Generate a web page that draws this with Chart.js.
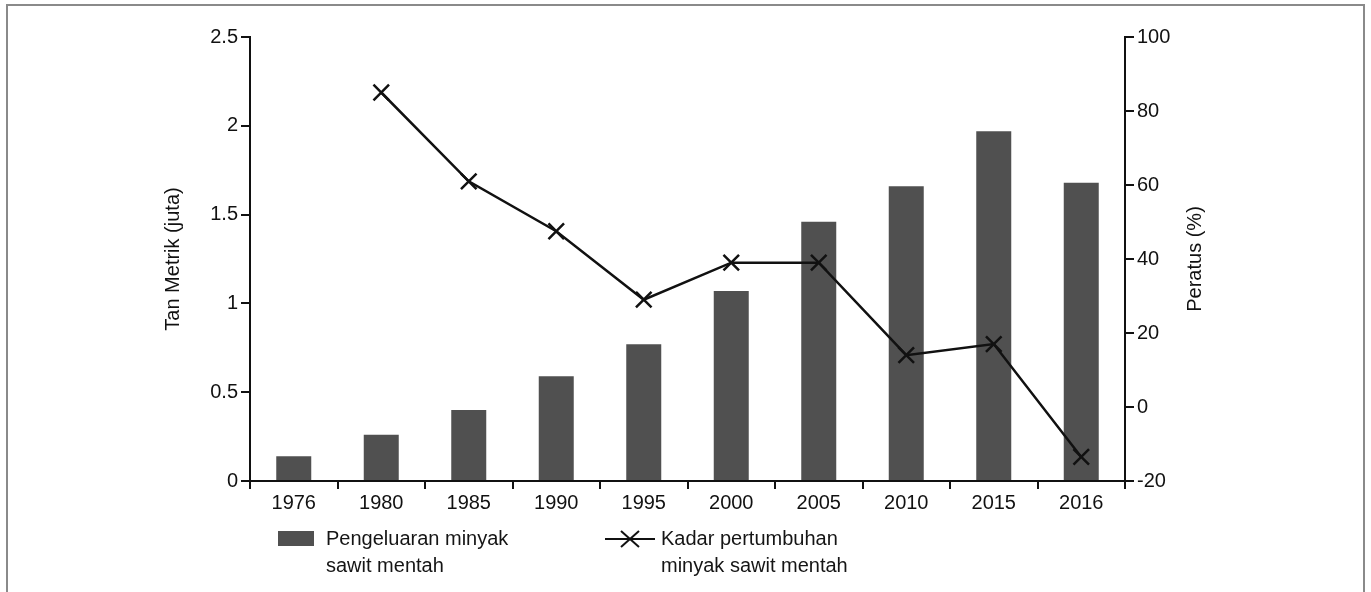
<!DOCTYPE html>
<html lang="ms">
<head>
    <meta charset="UTF-8">
    <title>Pengeluaran minyak sawit mentah</title>
    <script src="https://cdn.jsdelivr.net/npm/chart.js"></script>
    <style>
        body {
            margin: 0;
            background: #ffffff;
            font-family: 'Liberation Sans', Arial, sans-serif;
            color: #111;
        }
        .page {
            position: relative;
            width: 1371px;
            height: 592px;
            overflow: hidden;
        }
        .frame {
            position: absolute;
            left: 6px;
            top: 4px;
            width: 1355px;
            height: 600px;
            border: 2px solid #8a8a8a;
            border-bottom: none;
        }
        canvas { position: absolute; left: 0; top: 0; }
        .legend {
            position: absolute;
            top: 525px;
            font-size: 20px;
            line-height: 27px;
            color: #151515;
        }
        .legend .key {
            position: absolute;
            left: 0;
        }
        .legend .text { position: absolute; white-space: nowrap; }
    </style>
</head>
<body>
<div class="page">
    <div class="frame"></div>
    <canvas id="chart" width="1371" height="592"></canvas>

    <div class="legend" style="left:278px">
        <div class="key" style="top:6px;width:36px;height:15px;background:#505050"></div>
        <div class="text" style="left:48px;top:0">Pengeluaran minyak<br>sawit mentah</div>
    </div>
    <div class="legend" style="left:605px">
        <svg class="key" width="52" height="30" style="top:0">
            <line x1="0" y1="14" x2="50" y2="14" stroke="#111" stroke-width="2"/>
            <line x1="16" y1="6" x2="34" y2="22" stroke="#111" stroke-width="2"/>
            <line x1="16" y1="22" x2="34" y2="6" stroke="#111" stroke-width="2"/>
        </svg>
        <div class="text" style="left:56px;top:0">Kadar pertumbuhan<br>minyak sawit mentah</div>
    </div>
</div>

<script>
    const years = ['1976', '1980', '1985', '1990', '1995', '2000', '2005', '2010', '2015', '2016'];
    // Tan metrik (juta)
    const production = [0.14, 0.26, 0.4, 0.59, 0.77, 1.07, 1.46, 1.66, 1.97, 1.68];
    // Peratus (%)
    const growth = [null, 85, 61, 47.5, 29, 39, 39, 14, 17, -13.5];

    const fontFamily = "'Liberation Sans', Arial, sans-serif";
    const ink = '#111111';

    // right axis title reads bottom-to-top, so draw it here
    const rightTitle = {
        id: 'rightTitle',
        afterDraw(chart) {
            const ctx = chart.ctx;
            const area = chart.chartArea;
            ctx.save();
            ctx.translate(1195, (area.top + area.bottom) / 2);
            ctx.rotate(-Math.PI / 2);
            ctx.font = '20px ' + fontFamily;
            ctx.fillStyle = ink;
            ctx.textAlign = 'center';
            ctx.textBaseline = 'middle';
            ctx.fillText('Peratus (%)', 0, 0);
            ctx.restore();
        }
    };

    const tickFont = { size: 20, family: fontFamily };

    new Chart(document.getElementById('chart'), {
        data: {
            labels: years,
            datasets: [
                {
                    type: 'line',
                    label: 'Kadar pertumbuhan minyak sawit mentah',
                    data: growth,
                    yAxisID: 'y1',
                    borderColor: ink,
                    borderWidth: 2.5,
                    pointStyle: 'crossRot',
                    pointRadius: 11,
                    pointBorderWidth: 2.5,
                    pointBorderColor: ink,
                    order: 1
                },
                {
                    type: 'bar',
                    label: 'Pengeluaran minyak sawit mentah',
                    data: production,
                    yAxisID: 'y',
                    backgroundColor: '#505050',
                    barPercentage: 0.4,
                    categoryPercentage: 1,
                    order: 2
                }
            ]
        },
        options: {
            responsive: false,
            animation: false,
            layout: { padding: { left: 155, right: 150, top: 37, bottom: 0 } },
            plugins: {
                legend: { display: false },
                tooltip: { enabled: false }
            },
            scales: {
                x: {
                    offset: true,
                    border: { color: ink, width: 2 },
                    grid: { display: true, drawOnChartArea: false, offset: true, color: ink, lineWidth: 2, tickLength: 8 },
                    ticks: { color: ink, font: tickFont, padding: 2 },
                    afterFit(scale) { scale.height = 111; }
                },
                y: {
                    position: 'left',
                    min: 0,
                    max: 2.5,
                    border: { color: ink, width: 2 },
                    grid: { drawOnChartArea: false, color: ink, lineWidth: 2, tickLength: 9 },
                    ticks: { stepSize: 0.5, color: ink, font: tickFont, padding: 3, callback: v => String(v) },
                    title: {
                        display: true,
                        text: 'Tan Metrik (juta)',
                        color: ink,
                        font: { size: 20, family: fontFamily },
                        padding: { top: 6, bottom: 0 }
                    },
                    afterFit(scale) { scale.width = 95; }
                },
                y1: {
                    position: 'right',
                    min: -20,
                    max: 100,
                    border: { color: ink, width: 2 },
                    grid: { drawOnChartArea: false, color: ink, lineWidth: 2, tickLength: 9 },
                    ticks: { stepSize: 20, color: ink, font: tickFont, padding: 3, callback: v => String(v) },
                    afterFit(scale) { scale.width = 96; }
                }
            }
        },
        plugins: [rightTitle]
    });
</script>
</body>
</html>
